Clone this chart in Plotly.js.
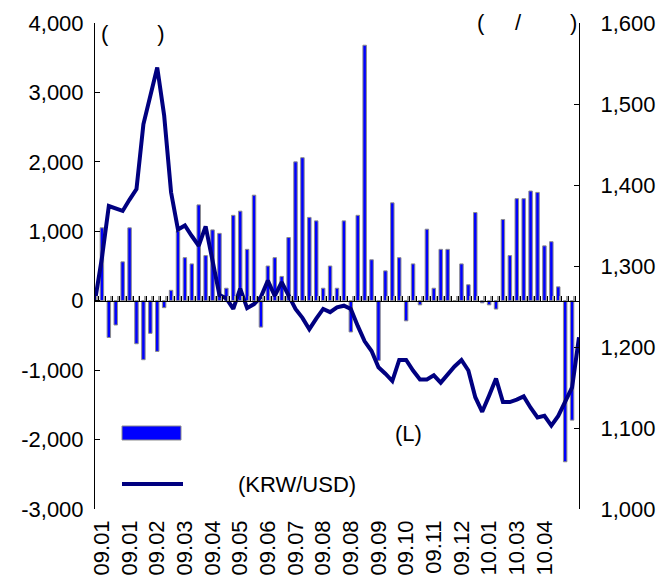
<!DOCTYPE html>
<html>
<head>
<meta charset="utf-8">
<script src="https://cdn.plot.ly/plotly-3.0.1.min.js"></script>
<style>html,body{margin:0;padding:0;background:#fff;}#chart{width:660px;height:587px;}</style>
</head>
<body>
<div id="chart"></div>
<script>
// Weekly net flow (bars, left axis) — one value per week
const flowValues = [1050,-530,-350,560,1050,-620,-850,-470,-730,-100,150,1000,620,530,1380,650,1020,970,180,1230,1290,740,1520,-380,500,620,350,910,2000,2060,1200,1150,180,500,180,1150,-450,1230,3680,590,-860,430,1410,620,-290,530,-60,1030,180,740,740,0,530,230,1270,-30,-60,-120,1170,650,1470,1470,1580,1560,790,850,200,-2320,-1720];
// Exchange rate KRW/USD (line, right axis)
const fxRate = [1257,1310,1374,1371,1368,1382,1395,1475,1510,1545,1486,1391,1345,1350,1337,1325,1349,1309,1264,1260,1247,1272,1248,1253,1262,1282,1263,1280,1263,1247,1236,1222,1235,1247,1243,1249,1251,1247,1226,1207,1195,1175,1167,1158,1184,1184,1171,1160,1160,1165,1156,1167,1176,1184,1171,1138,1120,1140,1161,1132,1132,1135,1139,1125,1113,1115,1103,1115,1132,1150,1212];
// Category tick labels (every 4th week)
const weekLabels = ['09.01','09.01','09.02','09.03','09.04','09.05','09.06','09.07','09.08','09.08','09.09','09.10','09.11','09.12','10.01','10.03','10.04'];
const labelStep = 4;
// Axis tick labels
const leftTickVals = [-3000,-2000,-1000,0,1000,2000,3000,4000];
const leftTickText = ['-3,000','-2,000','-1,000','0','1,000','2,000','3,000','4,000'];
const rightTickVals = [1000,1100,1200,1300,1400,1500,1600];
const rightTickText = ['1,000','1,100','1,200','1,300','1,400','1,500','1,600'];

const W = 660, H = 587, L = 95, R = 579, T = 23, B = 509;
const px = x => (x - L) / (R - L);
const py = y => (B - y) / (B - T);

const FONT = 'Liberation Sans, Arial, sans-serif';
const NAVY = '#000080';
const nb = n => '\u00A0'.repeat(n);

const barX = flowValues.map((v, i) => i + 1);
const lineX = fxRate.map((v, i) => i);
const lastIdx = fxRate.length - 1;
const labelX = weekLabels.map((s, k) => barX[k * labelStep]);

const traces = [
  {
    type: 'bar', x: barX, y: flowValues, xaxis: 'x', yaxis: 'y',
    width: 0.5,
    marker: {color: '#0000FF', line: {color: '#8c8c8c', width: 1}},
    showlegend: false, hoverinfo: 'skip'
  },
  {
    type: 'scatter', mode: 'lines', x: lineX, y: fxRate, xaxis: 'x', yaxis: 'y2',
    line: {color: NAVY, width: 4},
    showlegend: false, hoverinfo: 'skip'
  },
  {
    // carrier for the bottom category label axis (draws nothing)
    type: 'scatter', mode: 'markers', x: labelX, y: labelX.map(() => null), xaxis: 'x2', yaxis: 'y',
    marker: {opacity: 0}, showlegend: false, hoverinfo: 'skip'
  }
];

const layout = {
  width: W, height: H,
  margin: {l: L, r: W - R, t: T, b: H - B, pad: 0},
  paper_bgcolor: '#fff', plot_bgcolor: '#fff',
  font: {family: FONT, size: 22, color: '#000'},
  showlegend: false,
  bargap: 0,
  xaxis: {
    domain: [0, 1],
    range: [0, lastIdx],
    anchor: 'free', position: 3 / 7,
    showgrid: false, zeroline: false,
    showline: true, linecolor: '#000', linewidth: 1,
    tickmode: 'linear', tick0: 0.5, dtick: 1,
    ticks: 'inside', ticklen: 5, tickcolor: '#000', tickwidth: 1,
    minor: {tickmode: 'linear', tick0: 0.3, dtick: 1, ticks: 'inside', ticklen: 5, tickcolor: '#a0a0a0', tickwidth: 2, showgrid: false},
    showticklabels: false,
    layer: 'above traces'
  },
  xaxis2: {
    overlaying: 'x', anchor: 'y', side: 'bottom',
    range: [0, lastIdx],
    showgrid: false, zeroline: false, showline: false,
    ticks: '',
    tickmode: 'array',
    tickvals: labelX,
    ticktext: weekLabels,
    tickangle: -90,
    ticklabelstandoff: 6,
    tickfont: {family: FONT, size: 22, color: '#000'}
  },
  yaxis: {
    domain: [0, 1],
    range: [-3000, 4000],
    anchor: 'x', side: 'left',
    showgrid: false, zeroline: false,
    showline: true, linecolor: '#000', linewidth: 1,
    tickmode: 'array', tickvals: leftTickVals, ticktext: leftTickText,
    ticks: 'inside', ticklen: 5, tickcolor: '#000',
    ticklabelstandoff: 6,
    tickfont: {family: FONT, size: 22, color: '#000'}
  },
  yaxis2: {
    range: [1000, 1600],
    overlaying: 'y', anchor: 'x', side: 'right',
    showgrid: false, zeroline: false,
    showline: true, linecolor: '#000', linewidth: 1,
    tickmode: 'array', tickvals: rightTickVals, ticktext: rightTickText,
    ticks: 'inside', ticklen: 5, tickcolor: '#000',
    ticklabelstandoff: 16,
    tickfont: {family: FONT, size: 22, color: '#000'}
  },
  shapes: [
    {type: 'rect', xref: 'paper', yref: 'paper', x0: px(122), x1: px(181), y0: py(440), y1: py(426),
     fillcolor: '#0000FF', line: {color: '#8c8c8c', width: 1}},
    {type: 'line', xref: 'paper', yref: 'paper', x0: px(122), x1: px(183), y0: py(484), y1: py(484),
     line: {color: NAVY, width: 4}}
  ],
  annotations: [
    {xref: 'paper', yref: 'paper', x: px(99), y: py(33), xanchor: 'left', yanchor: 'middle', showarrow: false,
     text: '(' + nb(8) + ')', font: {family: FONT, size: 22, color: '#000'}},
    {xref: 'paper', yref: 'paper', x: px(475), y: py(22), xanchor: 'left', yanchor: 'middle', showarrow: false,
     text: '(' + nb(5) + '/' + nb(8) + ')', font: {family: FONT, size: 22, color: '#000'}},
    {xref: 'paper', yref: 'paper', x: px(393), y: py(433), xanchor: 'left', yanchor: 'middle', showarrow: false,
     text: '(L)', font: {family: FONT, size: 22, color: '#000'}},
    {xref: 'paper', yref: 'paper', x: px(236), y: py(484), xanchor: 'left', yanchor: 'middle', showarrow: false,
     text: '(KRW/USD)', font: {family: FONT, size: 22, color: '#000'}}
  ]
};

Plotly.newPlot('chart', traces, layout, {staticPlot: true, displayModeBar: false});
</script>
</body>
</html>
